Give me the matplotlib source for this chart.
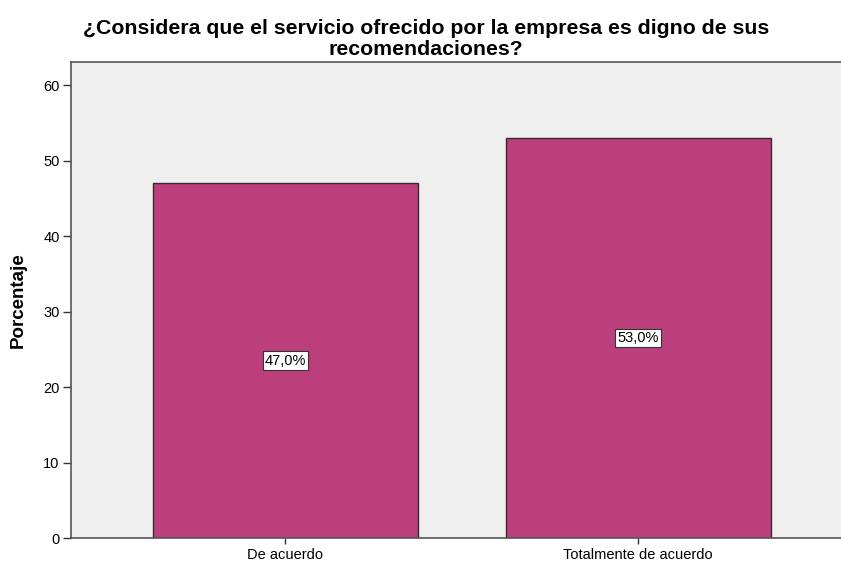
import matplotlib.pyplot as plt

categorias = ["De acuerdo", "Totalmente de acuerdo"]
porcentajes = [47.0, 53.0]
etiquetas = ["47,0%", "53,0%"]

plt.rcParams["font.family"] = ["Liberation Sans", "DejaVu Sans"]

fig = plt.figure(figsize=(8.41, 5.62), dpi=100)
ax = fig.add_axes([0.0841, 0.0427, 0.930, 0.847])
ax.set_facecolor("#efefef")

x = range(len(categorias))
ax.bar(x, porcentajes, width=0.752, color="#ba3f7c",
       edgecolor="#3a2a30", linewidth=1.0)

# etiqueta de porcentaje en el centro de cada barra
for xi, v, t in zip(x, porcentajes, etiquetas):
    ax.text(xi, v / 2, t, ha="center", va="center", fontsize=10.5,
            bbox=dict(boxstyle="square,pad=0.15", facecolor="white",
                      edgecolor="#333333", linewidth=0.8))

ax.set_xlim(-0.609, 1.609)
ax.set_ylim(0, 63.05)
ax.set_yticks([0, 10, 20, 30, 40, 50, 60])
ax.set_xticks(list(x))
ax.set_xticklabels(categorias)
ax.tick_params(axis="y", length=6, width=1, labelsize=10.5, color="#333333", pad=2)
ax.tick_params(axis="x", length=4, width=1, labelsize=10.5, color="#333333", pad=3)

for s in ax.spines.values():
    s.set_color("#555555")
    s.set_linewidth(1.2)

ax.set_ylabel("Porcentaje", fontsize=13.5, fontweight="bold", labelpad=12)

fig.text(426 / 841, 1 - 39 / 562,
         "¿Considera que el servicio ofrecido por la empresa es digno de sus\nrecomendaciones?",
         ha="center", va="center", fontsize=15.3, fontweight="bold",
         linespacing=1.08)

fig.savefig("out.png", dpi=100)
